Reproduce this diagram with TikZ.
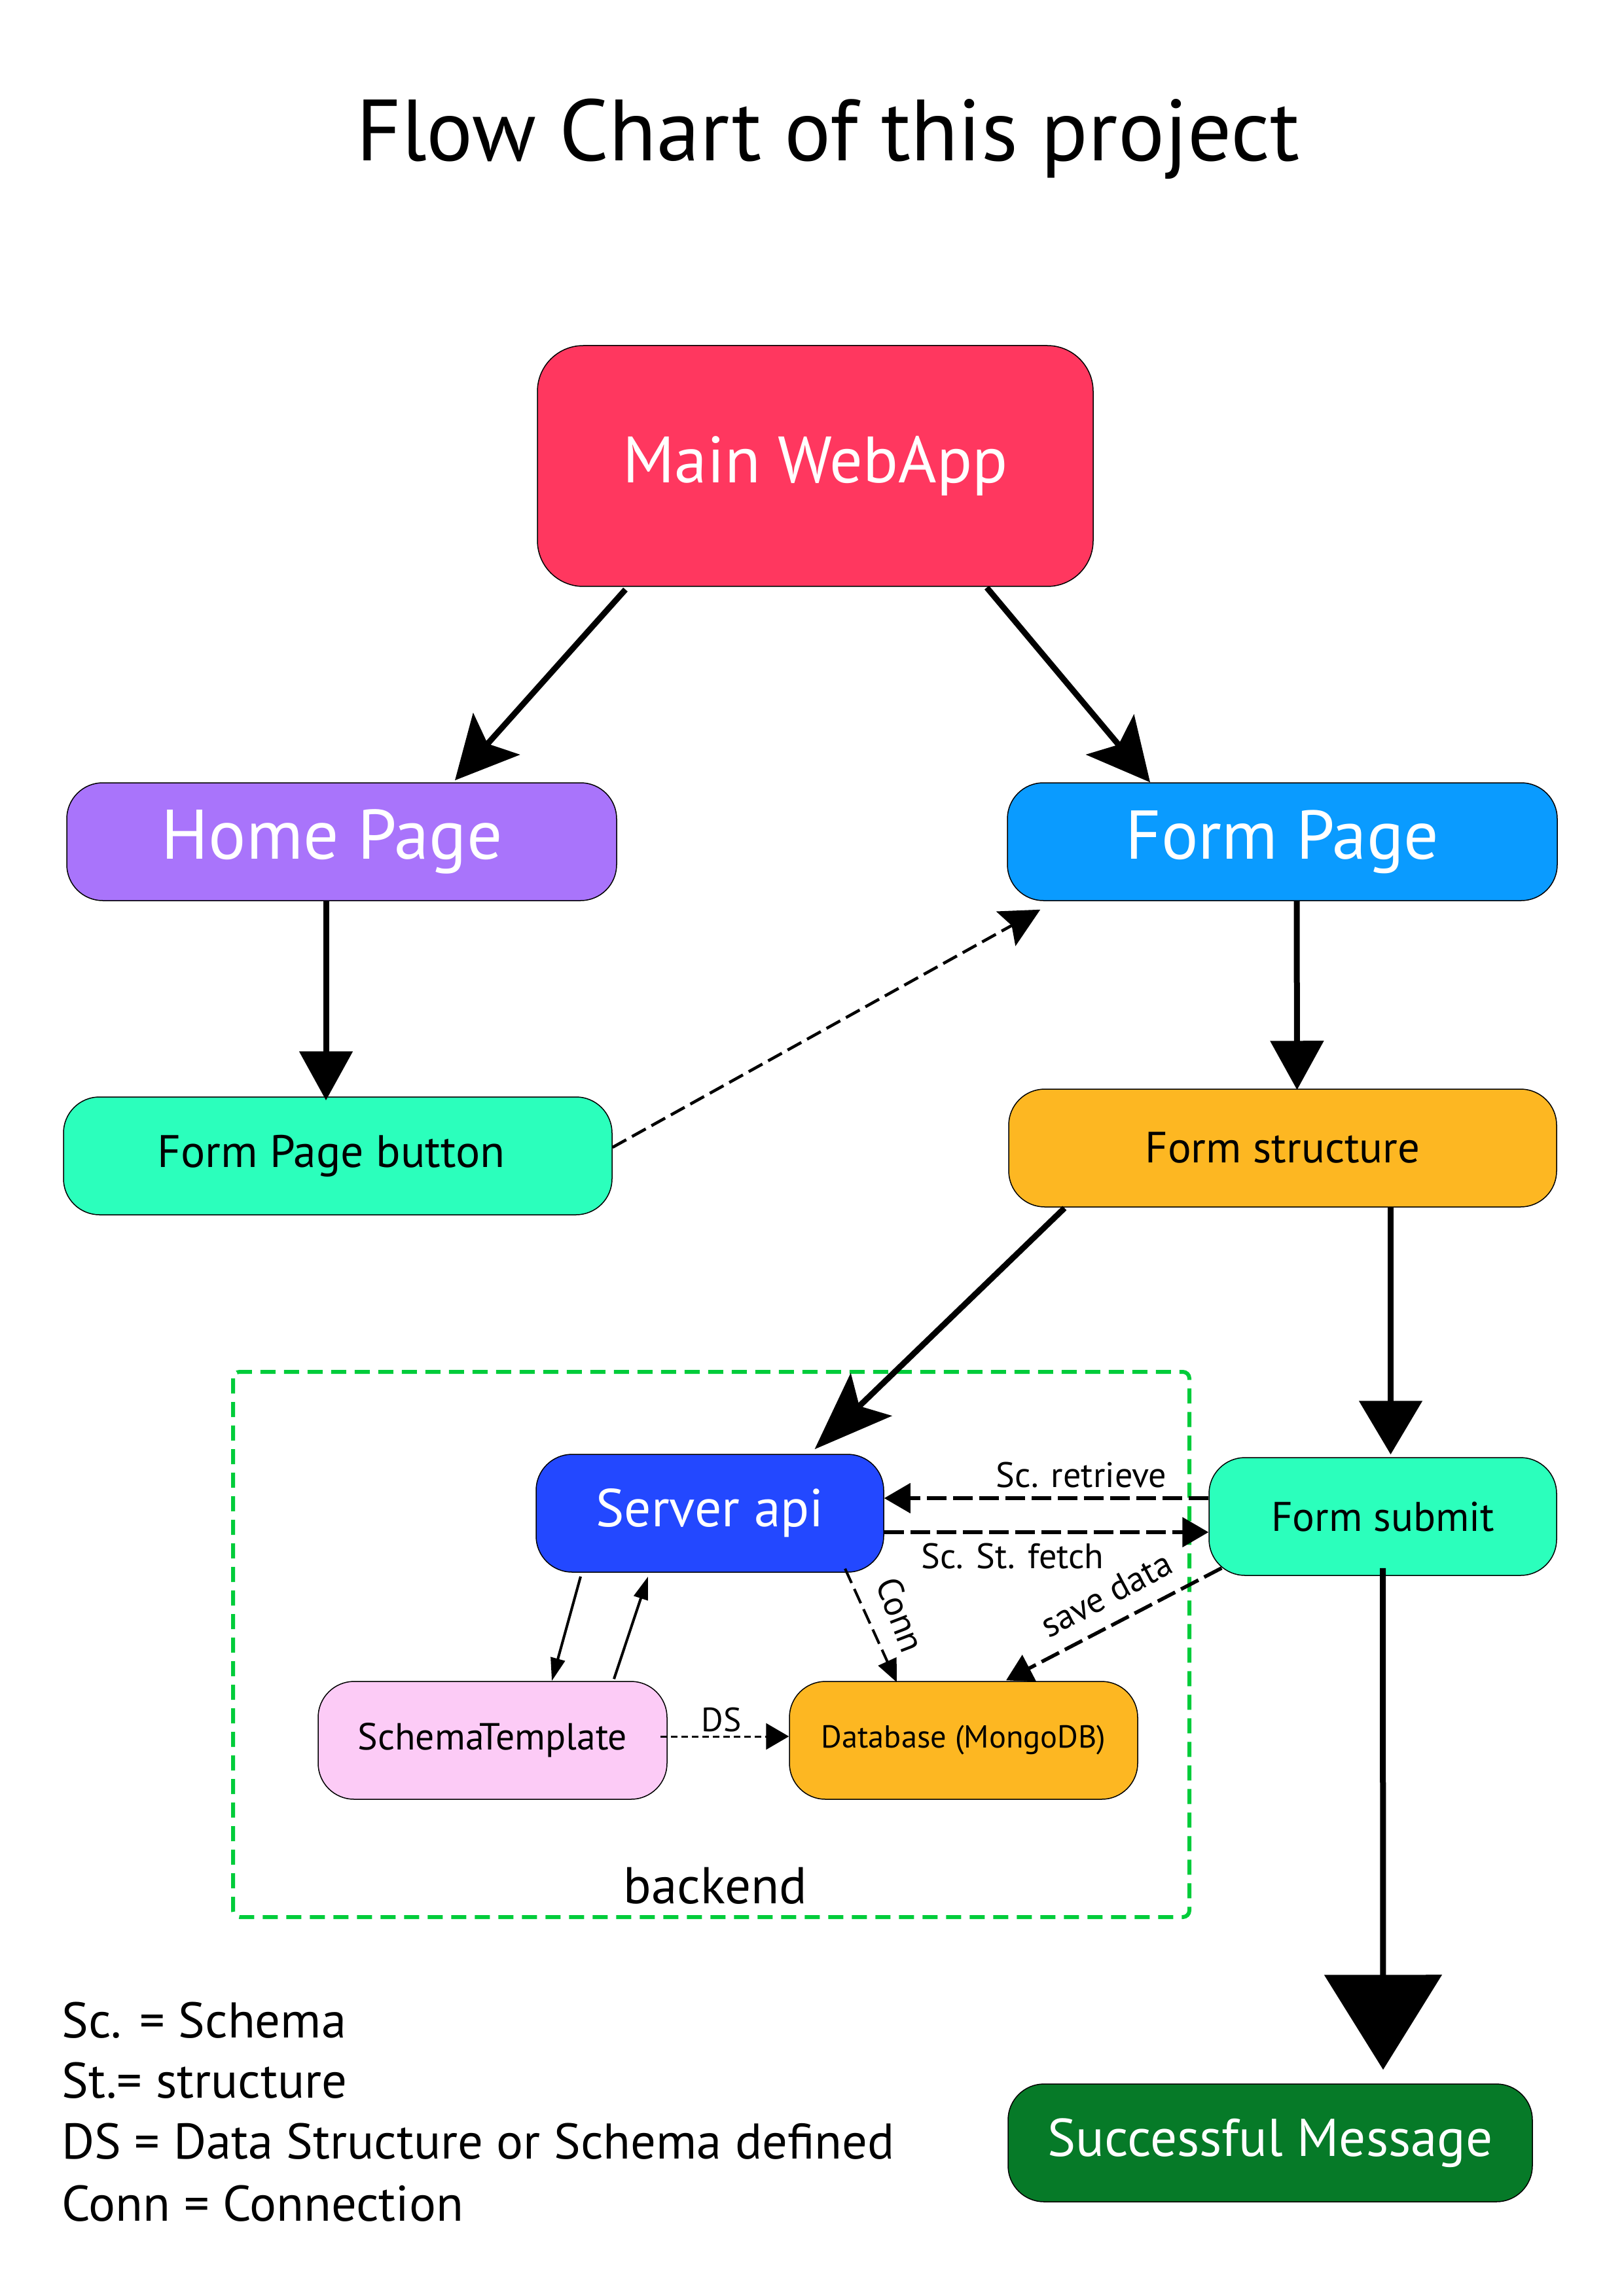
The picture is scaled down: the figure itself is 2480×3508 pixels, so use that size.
\documentclass[tikz,border=0pt]{standalone}
\usepackage{fontspec}
\setmainfont{PT Sans}
\usetikzlibrary{arrows.meta,calc}
\definecolor{cmain}{HTML}{FF375F}
\definecolor{chome}{HTML}{A974FB}
\definecolor{cform}{HTML}{0A9BFF}
\definecolor{cmint}{HTML}{2BFFBC}
\definecolor{corange}{HTML}{FDB722}
\definecolor{cserver}{HTML}{2348FF}
\definecolor{cpink}{HTML}{FCCBF6}
\definecolor{csuccess}{HTML}{067A28}
\definecolor{cgreen}{HTML}{00CC3A}
\tikzset{
  box/.style={draw=black, line width=0.15mm, rounded corners=5.5mm, inner sep=0pt, align=center},
  bigdiag/.style={line width=0.9mm, -{Stealth[length=9.5mm,width=9.5mm,inset=2mm]}},
  bigdiagb/.style={line width=0.9mm, -{Stealth[length=12mm,width=9mm,inset=2.5mm]}},
  vertarrow/.style={line width=0.9mm, -{Triangle[length=7.5mm,width=8mm]}},
  vertarrowb/.style={line width=0.9mm, -{Triangle[length=8.2mm,width=9.5mm]}},
  hugearrow/.style={line width=0.9mm, -{Triangle[length=14.5mm,width=17.8mm]}},
  dashbtn/.style={line width=0.45mm, dash pattern=on 2.4mm off 1mm, -{Stealth[length=6mm,width=6mm,inset=1mm]}},
  dashmed/.style={line width=0.55mm, dash pattern=on 3mm off 1mm, -{Triangle[length=4mm,width=4.5mm]}},
  dashconn/.style={line width=0.4mm, dash pattern=on 2.4mm off 1mm, -{Triangle[length=3.5mm,width=3mm]}},
  dashthin/.style={line width=0.3mm, dash pattern=on 1mm off 0.6mm, -{Triangle[length=3.5mm,width=4mm]}},
  thinarrow/.style={line width=0.4mm, -{Triangle[length=3.5mm,width=2.2mm]}},
  lbl/.style={inner sep=0pt, font=\fontsize{15.4}{18}\selectfont},
  legend/.style={inner sep=0pt, anchor=base west, font=\fontsize{21.8}{26}\selectfont}
}
\begin{document}
\begin{tikzpicture}[x=0.1mm,y=-0.1mm]
\useasboundingbox (0,0) rectangle (2480,3508);

% title
\node[inner sep=0pt, anchor=base, font=\fontsize{37.8}{45}\selectfont] (title) at (1265,246) {Flow Chart of this project};

% nodes
\node[box, fill=cmain, rounded corners=7mm, minimum width=84.9mm, minimum height=36.8mm, text=white, font=\fontsize{28.5}{34}\selectfont] (main) at (1245.5,712) {Main WebApp};
\node[box, fill=chome, minimum width=84mm, minimum height=18mm, text=white, font=\fontsize{30.5}{36}\selectfont] (home) at (522,1286) {\hspace*{-3mm}Home Page};
\node[box, fill=cform, minimum width=84mm, minimum height=18mm, text=white, font=\fontsize{30}{36}\selectfont] (formpage) at (1959,1286) {Form Page};
\node[box, fill=cmint, minimum width=83.8mm, minimum height=18mm, font=\fontsize{19.8}{24}\selectfont] (fpbutton) at (516,1766) {\hspace*{-2mm}Form Page button};
\node[box, fill=corange, minimum width=83.7mm, minimum height=18mm, font=\fontsize{19}{23}\selectfont] (fstruct) at (1959.5,1754) {Form structure};
\node[box, fill=cserver, minimum width=53.1mm, minimum height=18mm, text=white, font=\fontsize{23.2}{28}\selectfont] (server) at (1084.5,2312) {Server api};
\node[box, fill=cmint, minimum width=53.1mm, minimum height=18mm, font=\fontsize{18}{22}\selectfont] (fsubmit) at (2112.5,2317) {Form submit};
\node[box, fill=cpink, minimum width=53.3mm, minimum height=18mm, font=\fontsize{16.4}{20}\selectfont] (schema) at (752.5,2659) {SchemaTemplate};
\node[box, fill=corange, minimum width=53.2mm, minimum height=18mm, font=\fontsize{13.8}{17}\selectfont] (db) at (1472,2659) {Database (MongoDB)};
\node[box, fill=csuccess, minimum width=80.1mm, minimum height=18mm, text=white, font=\fontsize{23.1}{28}\selectfont] (success) at (1940.5,3274) {Successful Message};

% backend group
\draw[cgreen, line width=0.6mm, dash pattern=on 2.3mm off 1.3mm, rounded corners=1mm] (356,2096) rectangle (1817,2929);
\node[inner sep=0pt, anchor=base, font=\fontsize{22.5}{27}\selectfont] (lback) at (1093,2908) {backend};

% connectors
\draw[bigdiag] ($(main.south)+(-290,4)$) -- ($(home.north)+(173,-3)$);
\draw[bigdiag] ($(main.south)+(262,1)$) -- ($(formpage.north)+(-202,0)$);
\draw[vertarrow] ($(home.south)+(-24,0)$) -- ($(fpbutton.north)+(-18,6)$);
\draw[dashbtn] ($(fpbutton.east)+(0,-13)$) -- ($(formpage.south west)+(51,13)$);
\draw[vertarrow] ($(formpage.south)+(22,0)$) -- ($(fstruct.north)+(22,2)$);
\draw[bigdiagb] ($(fstruct.south west)+(86,1)$) -- ($(server.north)+(160,-7)$);
\draw[vertarrowb] ($(fstruct.south)+(165,0)$) -- ($(fsubmit.north)+(12,-4)$);
\draw[hugearrow] ($(fsubmit.south)+(0,-12)$) -- ($(success.north)+(172.5,-21)$);
\draw[dashmed] ($(fsubmit.west)+(0,-28)$) -- ($(server.east)+(0,-23)$);
\draw[dashmed] ($(server.east)+(0,29)$) -- ($(fsubmit.west)+(0,24)$);
\draw[thinarrow] ($(server.south)+(-197.5,6)$) -- ($(schema.north)+(90.5,0)$);
\draw[thinarrow] ($(schema.north)+(185.5,-3)$) -- ($(server.south)+(-94.5,6)$);
\draw[dashconn] ($(server.south)+(206.5,-6)$) -- ($(db.north)+(-102,2)$);
\draw[dashmed] ($(fsubmit.south west)+(20,-12)$) -- ($(db.north)+(65,-1)$);
\draw[dashthin] ($(schema.east)+(-11,-6)$) -- ($(db.west)+(0,-6)$);

% connector labels
\node[lbl, anchor=base east] (lretr) at (1783,2272) {Sc. retrieve};
\node[lbl, anchor=base west] (lfetch) at (1407,2396) {Sc. St. fetch};
\node[lbl, rotate=-69] (lconn) at (1376,2467) {Conn};
\node[lbl, rotate=28] (lsave) at (1690,2436) {save data};
\node[lbl, anchor=base, font=\fontsize{14.6}{17}\selectfont] (lds) at (1102,2645) {DS};

% legend
\node[legend] (leg1) at (94,3113) {Sc. = Schema};
\node[legend] (leg2) at (94,3205) {St.= structure};
\node[legend] (leg3) at (94,3298) {DS = Data Structure or Schema defined};
\node[legend] (leg4) at (94,3393) {Conn = Connection};
\end{tikzpicture}
\end{document}
